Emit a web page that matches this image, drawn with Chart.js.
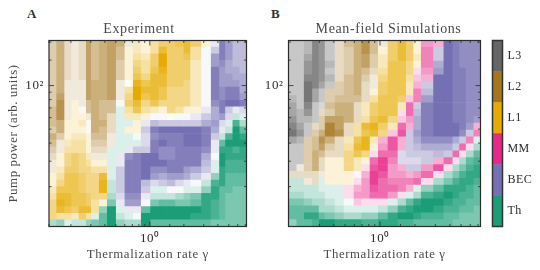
<!DOCTYPE html>
<html>
<head>
<meta charset="utf-8">
<script src="https://cdn.jsdelivr.net/npm/chart.js"></script>
<style>
    html, body { margin: 0; background: #fff; }
    canvas { position: absolute; top: 0; }
    .panel { position: absolute; top: 6px; font: bold 13px "Liberation Serif"; color: #333; }
</style>
</head>
<body>
<div class="panel" style="left:27px">A</div>
<div class="panel" style="left:271px">B</div>
<canvas id="expChart" width="278" height="270" style="left:0"></canvas>
<canvas id="simChart" width="267" height="270" style="left:255px"></canvas>
<canvas id="barChart" width="52" height="270" style="left:488px"></canvas>
<script>
// T=Th B=BEC M=MM Y=L1 O=L2 G=L3, digit = how strong the phase is (0-9)
const expRows = [
    'O3 O5 O2 O1 O2 O6 O4 O5 O6 O5 O1 Y2 Y1 Y3 Y5 Y5 Y6 Y7 Y5 Y1 B1 B8 B6 B4 B4',
    'O3 O5 O2 O1 O2 O6 O4 O5 O6 O4 Y1 Y2 Y1 Y3 Y7 Y5 Y5 Y7 Y3 T0 B3 B8 B6 B4 B4',
    'O3 O5 O2 O1 O2 O6 O4 O5 O6 O4 Y1 Y3 Y2 Y5 Y9 Y5 Y5 Y6 Y3 T0 B6 B8 B6 B4 B4',
    'O3 O5 O2 O1 O2 O6 O4 O5 O6 O3 Y1 Y4 Y3 Y5 Y9 Y5 Y5 Y5 Y2 T0 B6 B7 B5 B4 B4',
    'O3 O5 O2 O1 O2 O6 O4 O5 O6 O3 Y1 Y5 Y3 Y6 Y8 Y5 Y5 Y5 Y2 B0 B8 B6 B5 B5 B4',
    'O3 O5 O2 O1 O2 O6 O4 O5 O6 O3 Y1 Y6 Y4 Y7 Y7 Y5 Y5 Y5 Y2 B0 B8 B6 B6 B5 B5',
    'O3 O5 O1 O1 O1 O6 O5 O5 O6 O1 Y0 Y8 Y6 Y7 Y7 Y5 Y5 Y4 Y2 B0 B8 B6 B6 B6 B5',
    'O3 O5 O1 O1 O1 O6 O5 O5 O6 O1 Y3 Y9 Y7 Y7 Y6 Y4 Y4 Y4 Y2 B0 B8 B7 B8 B8 B5',
    'O3 O6 O1 O1 O1 O6 O5 O5 O6 O1 Y4 Y9 Y6 Y7 Y6 Y4 Y4 Y4 Y2 B0 B8 B7 B8 B8 B6',
    'O3 O7 O1 Y1 O1 O4 O5 O4 O4 T0 Y5 Y7 Y4 Y6 Y4 Y4 Y4 Y4 Y2 B0 B7 B8 B9 B9 B8',
    'O4 O7 O1 Y1 O0 O4 O5 O4 O4 T1 Y3 Y6 Y3 Y2 Y1 Y4 Y3 Y1 Y1 B1 B5 B8 B3 B1 B2',
    'O4 O7 O1 Y1 Y1 O1 O5 O4 O2 T1 Y2 Y2 Y1 B0 B0 Y0 T0 B0 B1 B3 B5 B6 B2 T2 T1',
    'O4 O5 Y1 Y1 Y2 O0 O5 O5 O2 T1 T1 Y1 B1 B4 B3 B3 B3 B3 B3 B5 B6 B2 T1 T7 T3',
    'O3 O5 Y1 Y1 Y1 O0 O5 O4 O2 T1 Y1 Y1 B3 B8 B9 B9 B9 B9 B9 B8 B5 B1 T2 T9 T6',
    'O5 O3 Y1 Y2 Y2 Y1 O4 O4 O1 T1 T1 T0 B2 B7 B8 B8 B8 B9 B9 B8 B3 T2 T7 T9 T8',
    'O4 O1 Y2 Y3 Y3 Y1 O3 O3 O1 T1 T1 T1 B2 B8 B9 B8 B8 B9 B9 B8 B1 T6 T9 T9 T9',
    'O3 O1 Y3 Y3 Y3 Y1 O2 O2 T1 T1 B1 B3 B3 B8 B7 B7 B8 B8 B8 B7 B1 T8 T8 T7 T8',
    'O2 Y1 Y4 Y5 Y4 Y2 O1 O1 T1 B1 B7 B8 B9 B9 B7 B7 B8 B8 B8 B5 T0 T9 T8 T8 T8',
    'O1 Y1 Y4 Y5 Y4 Y3 Y1 Y1 T1 B1 B8 B8 B9 B9 B9 B8 B8 B8 B8 B4 T1 T9 T7 T7 T7',
    'O1 Y2 Y5 Y5 Y4 Y4 Y3 Y3 T1 B3 B8 B8 B9 B7 B7 B8 B8 B6 B5 B3 T1 T8 T7 T7 T7',
    'Y1 Y3 Y6 Y6 Y5 Y4 Y4 Y7 T1 B3 B8 B8 B9 B6 B5 B6 B6 B5 B3 B1 T4 T8 T6 T6 T6',
    'Y1 Y4 Y6 Y6 Y5 Y4 Y4 Y8 T2 B3 B8 B8 B4 B2 B3 B4 B2 B1 B0 T2 T7 T8 T6 T6 T6',
    'Y2 Y6 Y6 Y6 Y5 Y4 Y4 Y8 T2 B3 B8 B8 B3 T1 T1 B0 T0 T1 T1 T4 T8 T6 T6 T5 T5',
    'Y3 Y7 Y7 Y6 Y6 Y5 Y4 Y4 T3 B2 B7 B7 B1 T2 T2 T2 T3 T4 T5 T8 T8 T6 T5 T5 T5',
    'Y4 Y8 Y7 Y6 Y6 Y5 Y3 Y1 T5 B1 B6 B6 B0 T5 T6 T6 T5 T5 T6 T8 T7 T6 T5 T5 T5',
    'Y4 Y7 Y6 Y5 Y7 Y7 Y3 T4 T9 T1 B1 B1 T6 T9 T9 T9 T9 T9 T9 T8 T7 T6 T5 T5 T5',
    'Y4 Y3 Y3 Y2 Y5 Y3 T1 T6 T9 T2 T1 B0 T9 T9 T9 T9 T9 T9 T8 T8 T7 T6 T5 T5 T5',
    'T3 T4 T1 T2 T2 T4 T5 T6 T9 T4 T3 T3 T9 T6 T6 T6 T6 T6 T6 T6 T5 T5 T5 T5 T5'
]
const simRows = [
    'G3 G3 G4 G7 G6 G3 O2 O4 O5 O7 O4 O1 Y5 Y7 Y5 Y1 M4 M3 B9 B8 B7 B7 B7',
    'G3 G3 G4 G7 G6 G3 O2 O3 O5 O7 O4 Y1 Y5 Y7 Y5 Y1 M5 B3 B9 B8 B7 B7 B7',
    'G3 G3 G5 G7 G6 G3 O2 O3 O5 O6 O3 Y2 Y5 Y7 Y5 Y2 M5 B3 B9 B8 B7 B7 B7',
    'G3 G3 G6 G7 G6 G4 O2 O3 O5 O6 O3 Y2 Y6 Y6 Y4 Y1 M5 B5 B9 B8 B7 B7 B7',
    'G3 G3 G6 G7 G6 G3 O2 O3 O5 O4 O2 Y3 Y6 Y6 Y4 M1 M4 B6 B9 B8 B8 B7 B7',
    'G3 G3 G7 G7 G6 G4 O2 O4 O5 O3 O1 Y4 Y6 Y6 Y3 M2 M3 B9 B9 B8 B8 B7 B7',
    'G3 G3 G8 G7 G5 G3 O3 O4 O5 O2 O1 Y5 Y6 Y6 Y2 M3 B3 B9 B9 B8 B8 B7 B7',
    'G3 G3 G8 G5 G3 O3 O3 O4 O5 O2 Y1 Y5 Y6 Y6 Y2 M5 B4 B9 B9 B8 B8 B7 B7',
    'G4 G3 G8 G5 G3 O3 O4 O4 O4 O2 Y3 Y6 Y6 Y5 M2 M5 B6 B9 B9 B8 B8 B7 B7',
    'G5 G3 G7 G3 G2 O4 O5 O5 O2 Y2 Y5 Y6 Y6 Y2 M6 B3 B8 B9 B9 B8 B8 B7 B7',
    'G5 G4 G6 G3 O2 O3 O5 O5 O2 Y2 Y5 Y6 Y6 M1 M6 B4 B8 B9 B9 B8 B8 B7 B7',
    'G6 G4 G4 G3 O3 O6 O6 O5 O2 Y3 Y6 Y7 Y4 M2 M4 B5 B8 B9 B9 B8 B8 B7 B6',
    'G7 G5 G3 O2 O3 O8 O6 O2 Y3 Y7 Y8 Y5 Y2 M6 M3 B5 B8 B9 B9 B9 B8 B6 M3',
    'G8 G6 G3 O3 O5 O8 O7 O2 Y3 Y6 Y7 Y4 M2 M7 B3 B6 B8 B9 B9 B9 B7 B3 M5',
    'G5 G4 O3 O4 O7 O5 O2 Y2 Y6 Y8 Y2 M3 M7 M3 B3 B5 B7 B7 B7 B5 B3 M5 T1',
    'G3 G3 O3 O4 O6 O3 O2 Y3 Y7 Y8 Y1 M4 M7 M3 B3 B4 B5 B5 B5 B3 M6 M1 T3',
    'G3 G3 O3 O5 O4 O2 O2 Y4 Y6 Y4 M1 M6 M6 B2 B3 B3 B3 B4 B3 M6 M1 T3 T6',
    'G3 G3 O3 O5 O2 Y1 Y1 Y4 Y2 Y1 M6 M8 M5 B2 B2 B2 B3 M3 M6 M1 T3 T6 T7',
    'G3 O1 O3 O5 O2 Y1 Y1 Y4 Y2 M1 M7 M8 M4 M3 B3 B3 M4 M7 M1 T3 T5 T7 T8',
    'O2 O2 O2 O2 O1 Y1 Y1 Y1 M0 M3 M8 M7 M4 M4 M3 M4 M6 M1 T3 T5 T7 T8 T8',
    'T2 T2 O1 O2 T1 Y1 Y1 Y1 M1 M4 M8 M6 M5 M5 M5 M6 M1 T3 T5 T7 T8 T8 T7',
    'T2 T2 T2 T2 T1 T1 T1 M1 M3 M4 M7 M6 M6 M5 M3 T1 T4 T6 T8 T8 T8 T7 T6',
    'T3 T3 T2 T2 T2 T1 T1 M1 M4 M4 M6 M6 M4 M1 T1 T3 T7 T8 T9 T8 T7 T7 T6',
    'T5 T5 T4 T3 T3 T2 T1 T0 M2 M1 M1 M1 T1 T3 T6 T8 T9 T9 T8 T7 T7 T6 T6',
    'T6 T6 T6 T6 T3 T3 T2 T1 T1 T1 T1 T2 T4 T7 T8 T9 T9 T8 T7 T7 T6 T6 T5',
    'T6 T6 T8 T8 T6 T5 T4 T3 T3 T4 T4 T6 T8 T9 T9 T8 T7 T7 T6 T6 T5 T5 T5',
    'T4 T6 T6 T7 T9 T9 T8 T8 T8 T7 T7 T8 T8 T7 T7 T6 T6 T6 T6 T5 T5 T5 T5'
]
// bin widths along the log gamma axis
const expWidths = [21, 24, 21, 22, 22, 15, 24, 24, 27, 26, 25, 24, 28, 25, 25, 25, 25, 20, 33, 29, 25, 18, 22, 21, 22]
const simWidths = [23, 22, 25, 20, 18, 30, 27, 30, 23, 25, 25, 29, 30, 25, 22, 23, 37, 31, 27, 20, 20, 23, 22]

const phaseLabels = ['L3', 'L2', 'L1', 'MM', 'BEC', 'Th']
const phaseCodes = ['G', 'O', 'Y', 'M', 'B', 'T']
const phaseColors = ['#666666', '#a6761d', '#e6ab02', '#e7298a', '#7570b3', '#1b9e77']

const serif = '"Liberation Serif"'
const ink = '#2b2b2b'
const grey = '#4a4a4a'

Chart.defaults.animation = false
Chart.defaults.font.family = serif

function cellColor(token) {
    const hex = phaseColors[phaseCodes.indexOf(token[0])]
    const a = (Number(token[1]) + 0.5) / 9.5
    const ch = i => Math.round(255 + (parseInt(hex.substr(i, 2), 16) - 255) * a)
    return `rgb(${ch(1)},${ch(3)},${ch(5)})`
}

// inward ticks on all four sides and the black frame
const frame = {
    id: 'frame',
    beforeDraw(chart) { chart.ctx.letterSpacing = '0.6px' },
    afterDatasetsDraw(chart) {
        const { ctx, chartArea: a, scales } = chart
        const isDecade = v => Math.abs(Math.log10(v) - Math.round(Math.log10(v))) < 1e-6
        ctx.save()
        ctx.strokeStyle = ink
        ctx.lineWidth = 0.8
        ctx.beginPath()
        for (const t of scales.xLog.ticks) {
            const px = scales.xLog.getPixelForValue(t.value), len = isDecade(t.value) ? 5 : 2.5
            ctx.moveTo(px, a.bottom); ctx.lineTo(px, a.bottom - len)
            ctx.moveTo(px, a.top); ctx.lineTo(px, a.top + len)
        }
        for (const t of scales.yLog.ticks) {
            const py = scales.yLog.getPixelForValue(t.value), len = isDecade(t.value) ? 5 : 2.5
            ctx.moveTo(a.left, py); ctx.lineTo(a.left + len, py)
            ctx.moveTo(a.right, py); ctx.lineTo(a.right - len, py)
        }
        ctx.stroke()
        ctx.lineWidth = 1.2
        ctx.strokeRect(a.left, a.top, a.right - a.left, a.bottom - a.top)
        ctx.restore()
    }
}

function heatmap(id, title, rows, widths, xRange, box) {
    const cells = rows.map(r => r.split(' '))
    new Chart(document.getElementById(id), {
        type: 'bar',
        data: {
            labels: rows.map((_, i) => i),
            datasets: widths.map((w, c) => ({
                data: rows.map(() => w),
                backgroundColor: cells.map(r => cellColor(r[c])),
                borderWidth: 0,
                barPercentage: 1,
                categoryPercentage: 1
            }))
        },
        options: {
            indexAxis: 'y',
            responsive: false,
            events: [],
            plugins: {
                legend: { display: false },
                tooltip: { enabled: false },
                title: {
                    display: true,
                    text: title,
                    color: grey,
                    font: { size: 14, weight: 'normal' },
                    padding: { top: 20.5, bottom: 40.5 - 20.5 - 16.8 }
                }
            },
            scales: {
                x: { display: false, stacked: true, min: 0, max: widths.reduce((s, w) => s + w, 0) },
                y: { display: false, stacked: true },
                // only keeps the plot clear of the canvas edge so the title can sit off centre
                spacer: {
                    axis: 'y',
                    position: 'right',
                    grid: { display: false },
                    border: { display: false },
                    ticks: { display: false },
                    afterFit: s => { s.width = box.right }
                },
                xLog: {
                    type: 'logarithmic',
                    position: 'bottom',
                    min: xRange[0],
                    max: xRange[1],
                    grid: { display: false, drawTicks: false },
                    border: { display: false },
                    afterFit: s => { s.height = 43.5 },
                    ticks: {
                        autoSkip: false,
                        maxRotation: 0,
                        padding: 4,
                        color: ink,
                        font: { size: 13 },
                        callback: v => v === 1 ? '10\u2070' : ''
                    },
                    title: {
                        display: true,
                        text: 'Thermalization rate \u03b3',
                        color: grey,
                        font: { size: 12.8 },
                        padding: { top: 0, bottom: 8 }
                    }
                },
                yLog: {
                    type: 'logarithmic',
                    position: 'left',
                    min: 10.6,
                    max: 205,
                    grid: { display: false, drawTicks: false },
                    border: { display: false },
                    afterFit: s => { s.width = box.left },
                    ticks: {
                        autoSkip: false,
                        padding: 5,
                        color: ink,
                        font: { size: 13 },
                        callback: v => v === 100 ? '10\u00b2' : ''
                    },
                    title: {
                        display: !!box.yTitle,
                        text: box.yTitle,
                        color: grey,
                        font: { size: 12.8 },
                        padding: { top: 6, bottom: 0 }
                    }
                }
            }
        },
        plugins: [frame]
    })
}

heatmap('expChart', 'Experiment', expRows, expWidths, [0.128, 7.17],
    { left: 49, right: 31.5, yTitle: 'Pump power (arb. units)' })
heatmap('simChart', 'Mean-field Simulations', simRows, simWidths, [0.1626, 7.35],
    { left: 33.5, right: 41.5 })

new Chart(document.getElementById('barChart'), {
    type: 'bar',
    data: {
        labels: phaseLabels,
        datasets: [{
            data: phaseLabels.map(() => 1),
            backgroundColor: phaseColors,
            barPercentage: 1,
            categoryPercentage: 1
        }]
    },
    options: {
        indexAxis: 'y',
        responsive: false,
        events: [],
        layout: { padding: { left: 4.5, top: 40.5, bottom: 43.5 } },
        plugins: {
            legend: { display: false },
            tooltip: { enabled: false }
        },
        scales: {
            x: { display: false, min: 0, max: 1 },
            y: {
                position: 'right',
                grid: { display: false, drawTicks: false },
                border: { display: false },
                afterFit: s => { s.width = 37.5 },
                ticks: { padding: 5, color: ink, font: { size: 12 } }
            }
        }
    },
    plugins: [{
        id: 'barFrame',
        beforeDraw(chart) { chart.ctx.letterSpacing = '0.4px' },
        afterDatasetsDraw(chart) {
            const { ctx, chartArea: a } = chart
            ctx.save()
            ctx.strokeStyle = '#333'
            ctx.lineWidth = 1.5
            ctx.strokeRect(a.left, a.top, a.right - a.left, a.bottom - a.top)
            ctx.restore()
        }
    }]
})
</script>
</body>
</html>
